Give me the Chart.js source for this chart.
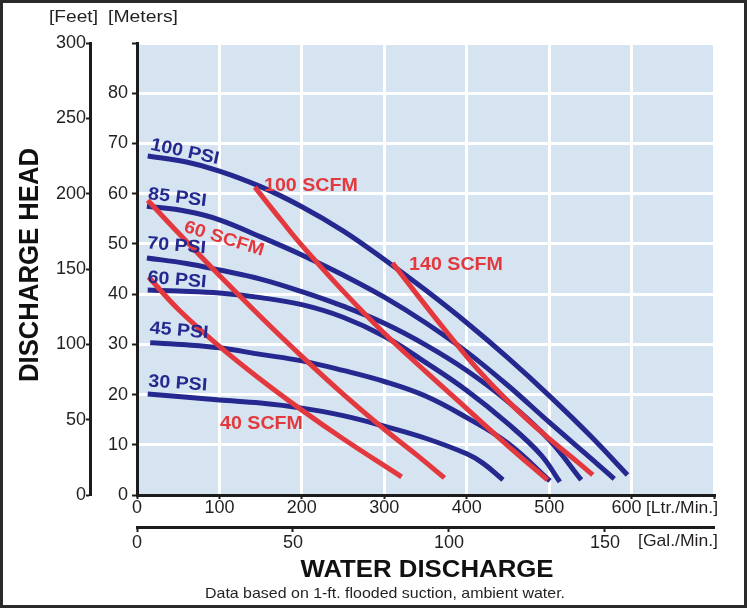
<!DOCTYPE html>
<html>
<head>
<meta charset="utf-8">
<title>Discharge Head / Water Discharge</title>
<script src="https://cdn.jsdelivr.net/npm/chart.js@4.4.1/dist/chart.umd.min.js"></script>
<style>
  html, body { margin: 0; padding: 0; background: #fff; }
  #wrap { position: relative; width: 750px; height: 612px; }
</style>
</head>
<body>
<div id="wrap"><canvas id="pumpCurveChart"></canvas></div>
<script>
// flow in Ltr./Min., head in meters
const psi100Flow = [13, 60, 100, 150, 200, 250, 300, 350, 400, 450, 500, 550, 595];
const psi100Head = [67.5, 66.3, 64.5, 61.4, 57.4, 52.6, 46.9, 40.8, 34.3, 27.3, 19.8, 11.8, 4.0];

const psi85Flow = [12, 60, 100, 150, 200, 250, 300, 350, 400, 450, 500, 550, 579];
const psi85Head = [57.5, 56.5, 54.8, 51.4, 47.8, 43.8, 39.4, 34.3, 28.5, 21.8, 14.5, 7.4, 3.2];

const psi70Flow = [12, 60, 100, 150, 200, 250, 300, 350, 400, 450, 500, 539];
const psi70Head = [47.2, 46.1, 44.8, 43.0, 40.5, 37.6, 34.2, 29.9, 24.8, 18.6, 11.0, 3.0];

const psi60Flow = [13, 50, 100, 150, 200, 250, 300, 350, 400, 450, 490, 513];
const psi60Head = [40.8, 40.6, 40.2, 39.3, 37.9, 35.4, 31.6, 26.4, 20.8, 14.2, 8.0, 2.6];

const psi45Flow = [16, 60, 100, 150, 200, 250, 300, 350, 400, 450, 501];
const psi45Head = [30.3, 29.9, 29.3, 28.0, 26.7, 24.8, 22.6, 19.7, 15.4, 10.3, 2.8];

const psi30Flow = [13, 50, 100, 150, 200, 250, 300, 350, 400, 420, 444];
const psi30Head = [20.1, 19.6, 18.9, 18.3, 17.3, 15.8, 13.7, 11.3, 8.2, 6.3, 3.0];

const scfm40Flow = [14, 50, 100, 150, 200, 250, 321];
const scfm40Head = [43.4, 37.0, 29.6, 23.0, 16.9, 11.2, 3.6];

const scfm60Flow = [13, 50, 100, 150, 200, 250, 300, 340, 373];
const scfm60Head = [58.7, 52.2, 43.7, 35.5, 27.6, 20.1, 13.1, 7.9, 3.4];

const scfm100Flow = [143, 175, 200, 250, 300, 350, 400, 450, 498];
const scfm100Head = [61.3, 54.7, 49.7, 40.6, 32.2, 24.6, 17.2, 9.8, 3.0];

const scfm140Flow = [310, 335, 375, 415, 455, 495, 535, 553];
const scfm140Head = [46.2, 40.9, 32.6, 24.7, 17.9, 11.9, 6.5, 4.0];

// axis ranges
const ltrMax = 700;
const meterMax = 90;
const feetMax = 300;
const litresPerGallon = 3.785;

const blueLine = "#25298f";
const redLine = "#e3393e";
const axisColor = "#1c1c1c";
const textColor = "#231f20";

// curve captions, placed in data units (flow, head)
const curveLabels = [
  { text: "100 PSI", flow: 58, head: 68.3, angle: 12, color: blueLine },
  { text: "85 PSI", flow: 49, head: 59.2, angle: 7, color: blueLine },
  { text: "70 PSI", flow: 48, head: 49.6, angle: 5, color: blueLine },
  { text: "60 PSI", flow: 48.5, head: 42.8, angle: 5, color: blueLine },
  { text: "45 PSI", flow: 51, head: 32.7, angle: 5, color: blueLine },
  { text: "30 PSI", flow: 49.5, head: 22.2, angle: 4, color: blueLine },
  { text: "100 SCFM", flow: 211, head: 61.6, angle: 0, color: redLine },
  { text: "60 SCFM", flow: 105.5, head: 51.0, angle: 17, color: redLine },
  { text: "140 SCFM", flow: 387, head: 45.7, angle: 0, color: redLine },
  { text: "40 SCFM", flow: 151, head: 14.1, angle: 0, color: redLine },
];

function toPoints(flow, head) {
  return flow.map((f, i) => ({ x: f, y: head[i] }));
}

function curve(flow, head, color) {
  return {
    data: toPoints(flow, head),
    borderColor: color,
    borderWidth: 5,
    borderCapStyle: "butt",
    pointRadius: 0,
    fill: false,
    tension: 0.4,
  };
}

// text helper: squeeze/stretch horizontally to a target width
function drawText(ctx, text, x, y, font, color, opts) {
  opts = opts || {};
  ctx.save();
  ctx.font = font;
  ctx.fillStyle = color;
  ctx.textAlign = opts.align || "center";
  ctx.textBaseline = "middle";
  ctx.translate(x, y);
  ctx.rotate(((opts.angle || 0) * Math.PI) / 180);
  let sx = opts.stretch || 1;
  if (opts.width) {
    sx = opts.width / ctx.measureText(text).width;
  }
  ctx.scale(sx, 1);
  ctx.fillText(text, 0, 0);
  ctx.restore();
}

const plotBackground = {
  id: "plotBackground",
  beforeDraw(chart) {
    const { ctx, chartArea } = chart;
    ctx.save();
    ctx.fillStyle = "#d6e4f1";
    ctx.fillRect(
      chartArea.left,
      chartArea.top + 2,
      chartArea.right - chartArea.left,
      chartArea.bottom - chartArea.top - 2
    );
    ctx.restore();
  },
};

const chartText = {
  id: "chartText",
  afterDraw(chart) {
    const ctx = chart.ctx;
    const xs = chart.scales.x;
    const ys = chart.scales.y;
    const unitFont = "17px 'Liberation Sans', Arial, sans-serif";
    const boldFont = "bold 18px 'Liberation Sans', Arial, sans-serif";

    // curve captions
    curveLabels.forEach((lab) => {
      drawText(
        ctx,
        lab.text,
        xs.getPixelForValue(lab.flow),
        ys.getPixelForValue(lab.head),
        boldFont,
        lab.color,
        { angle: lab.angle, stretch: 1.09 }
      );
    });

    // unit captions
    drawText(ctx, "[Feet]", 73.5, 17, unitFont, textColor, { width: 49 });
    drawText(ctx, "[Meters]", 143, 17, unitFont, textColor, { width: 70 });
    drawText(ctx, "[Ltr./Min.]", 682, 508, unitFont, textColor, { width: 72 });
    drawText(ctx, "[Gal./Min.]", 678, 541, unitFont, textColor, { width: 80 });

    // axis titles
    drawText(
      ctx,
      "DISCHARGE HEAD",
      31,
      265,
      "bold 27px 'Liberation Sans', Arial, sans-serif",
      "#111",
      { angle: -90, width: 234 }
    );
    drawText(
      ctx,
      "WATER DISCHARGE",
      427,
      570,
      "bold 24px 'Liberation Sans', Arial, sans-serif",
      "#111",
      { width: 253 }
    );
    drawText(
      ctx,
      "Data based on 1-ft. flooded suction, ambient water.",
      385,
      594,
      "15px 'Liberation Sans', Arial, sans-serif",
      textColor,
      { width: 360 }
    );

    // outer frame
    ctx.save();
    ctx.strokeStyle = "#2a2a2a";
    ctx.lineWidth = 3;
    ctx.strokeRect(1.5, 1.5, 744, 605);
    ctx.restore();
  },
};

document.addEventListener("DOMContentLoaded", function () {
  Chart.defaults.font.family = "'Liberation Sans', Arial, sans-serif";
  Chart.defaults.color = textColor;

  const pumpCurveCtx = document.getElementById("pumpCurveChart");

  const tickFont = { size: 18 };
  const border = { color: axisColor, width: 3, z: 1 };

  new Chart(pumpCurveCtx, {
    type: "line",
    data: {
      datasets: [
        // air consumption curves first so they sit on top
        curve(scfm40Flow, scfm40Head, redLine),
        curve(scfm60Flow, scfm60Head, redLine),
        curve(scfm100Flow, scfm100Head, redLine),
        curve(scfm140Flow, scfm140Head, redLine),
        curve(psi30Flow, psi30Head, blueLine),
        curve(psi45Flow, psi45Head, blueLine),
        curve(psi60Flow, psi60Head, blueLine),
        curve(psi70Flow, psi70Head, blueLine),
        curve(psi85Flow, psi85Head, blueLine),
        curve(psi100Flow, psi100Head, blueLine),
      ],
    },
    options: {
      responsive: true,
      maintainAspectRatio: false,
      animation: false,
      events: [],
      layout: {
        padding: { top: 43, right: 36, bottom: 0, left: 0 },
      },
      plugins: {
        legend: { display: false },
        tooltip: { enabled: false },
      },
      scales: {
        x: {
          type: "linear",
          position: "bottom",
          min: 0,
          max: ltrMax,
          afterFit: (scale) => {
            scale.height = 32;
          },
          ticks: {
            stepSize: 100,
            font: tickFont,
            padding: -2,
            maxRotation: 0,
            // last labelled tick sits a little left, next to the unit caption
            callback: (v) => (v === ltrMax ? "" : v === 600 ? "600  " : v),
          },
          grid: {
            color: "#ffffff",
            lineWidth: 3,
            tickColor: axisColor,
            tickWidth: 2,
            tickLength: 4,
          },
          border: border,
        },
        xGal: {
          type: "linear",
          position: "bottom",
          weight: 1,
          min: 0,
          max: ltrMax / litresPerGallon,
          afterFit: (scale) => {
            scale.height = 85;
          },
          ticks: {
            stepSize: 50,
            includeBounds: false,
            font: tickFont,
            padding: 0,
            maxRotation: 0,
          },
          grid: {
            drawOnChartArea: false,
            tickLength: 5,
            tickWidth: 2,
            tickColor: axisColor,
          },
          border: border,
        },
        y: {
          type: "linear",
          position: "left",
          min: 0,
          max: meterMax,
          afterFit: (scale) => {
            scale.width = 47;
          },
          ticks: {
            stepSize: 10,
            font: tickFont,
            padding: 4,
            callback: (v) => (v === meterMax ? "" : v),
          },
          grid: {
            color: (c) =>
              c.tick && c.tick.value === 0 ? "rgba(0,0,0,0)" : "#ffffff",
            lineWidth: 3,
            tickColor: axisColor,
            tickWidth: 2,
            tickLength: 5,
          },
          border: border,
        },
        yFeet: {
          type: "linear",
          position: "left",
          weight: 1,
          min: 0,
          max: feetMax,
          afterFit: (scale) => {
            scale.width = 90;
          },
          ticks: {
            stepSize: 50,
            font: tickFont,
            padding: 0,
          },
          grid: {
            drawOnChartArea: false,
            tickColor: axisColor,
            tickWidth: 2,
            tickLength: 4,
          },
          border: border,
        },
      },
    },
    plugins: [plotBackground, chartText],
  });
});
</script>
</body>
</html>
